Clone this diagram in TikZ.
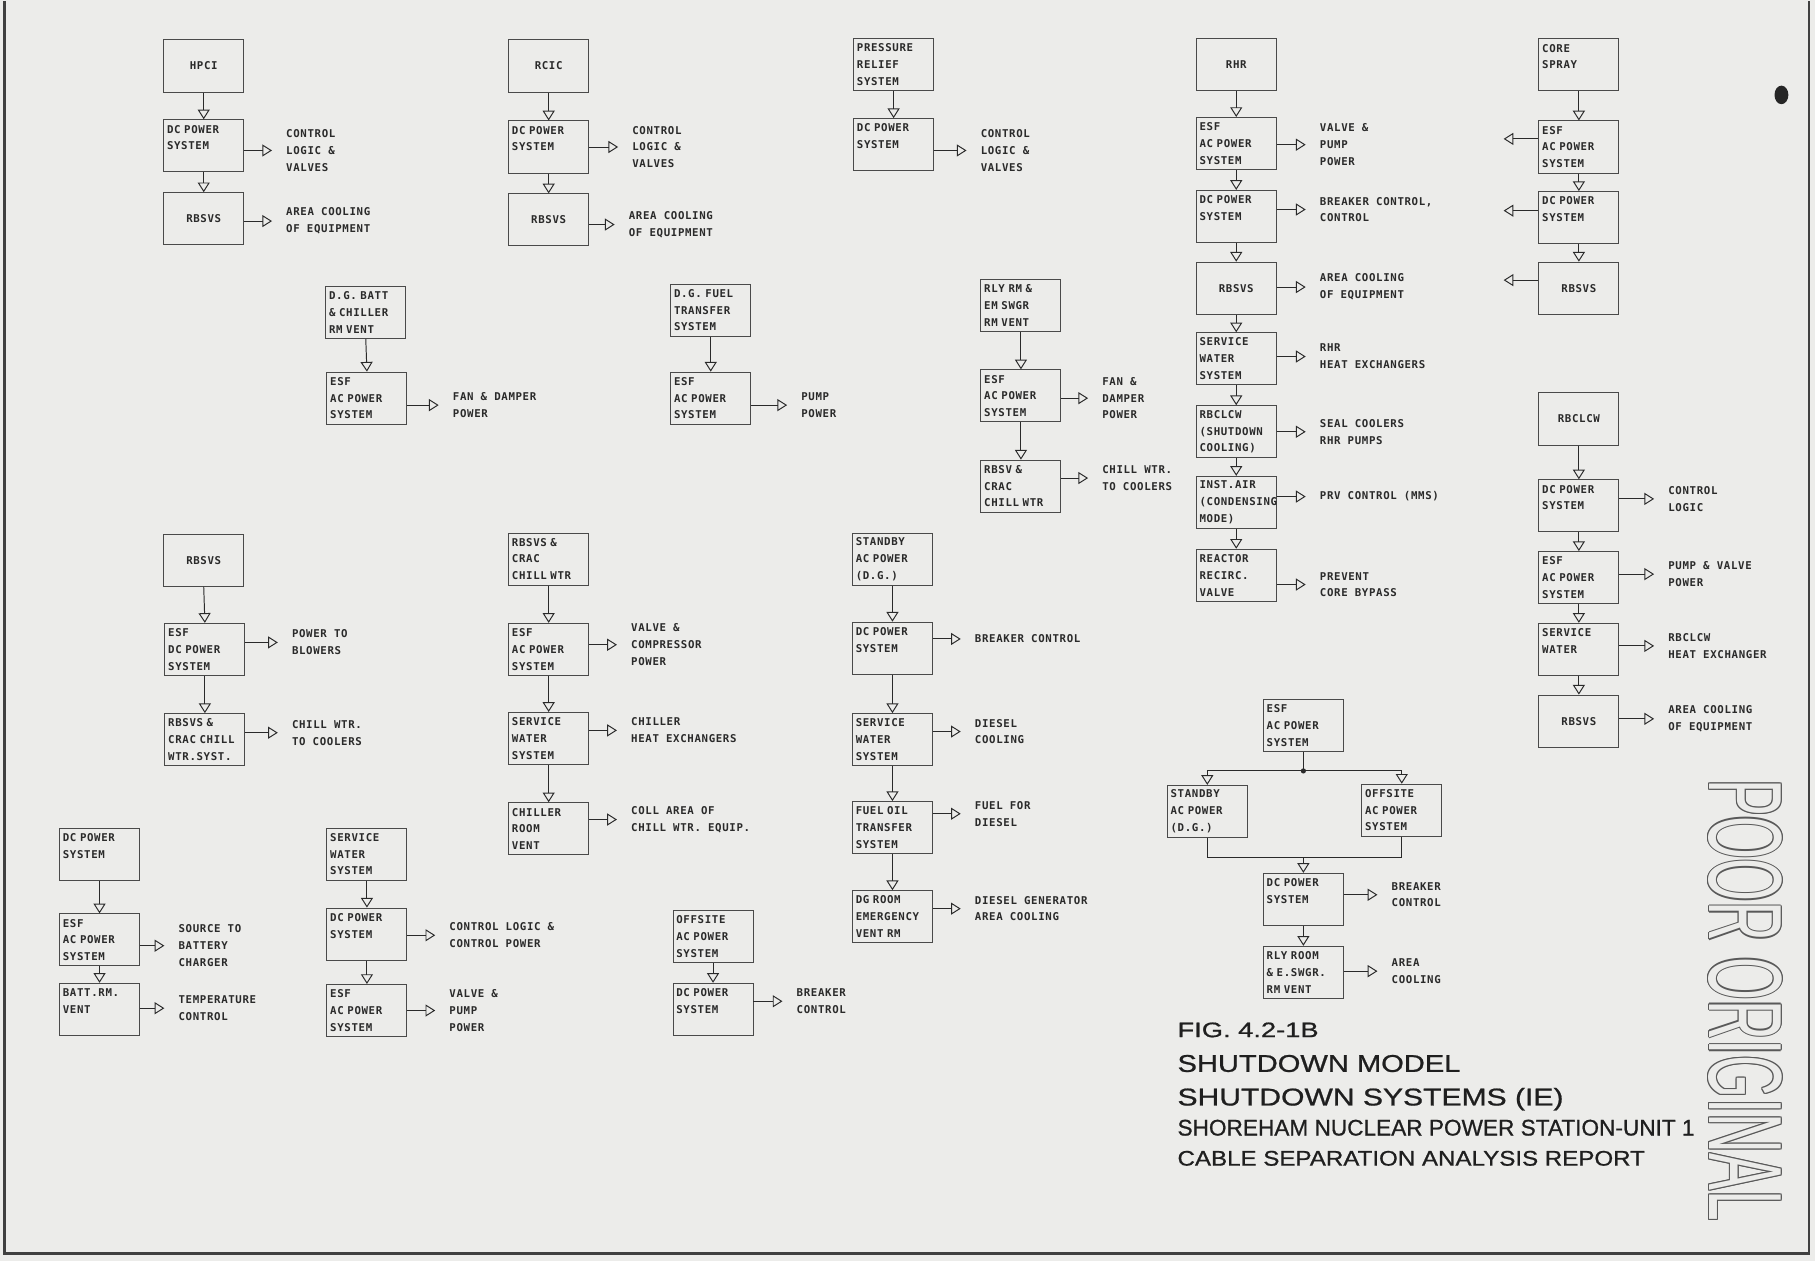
\documentclass[tikz,border=0pt]{standalone}
\usepackage{fontspec}
\usepackage{graphicx}
\setmainfont{Liberation Sans}
\newfontfamily\lettering[LetterSpace=6]{DejaVu Sans Mono}
\newfontfamily\titlefont[FakeBold=0.8]{Liberation Sans}
\newcommand\boxfont{\lettering\bfseries\fontsize{6.6}{10.3}\selectfont}
\usetikzlibrary{arrows.meta}
\definecolor{paper}{RGB}{236,236,234}
\definecolor{ink}{RGB}{42,42,42}

\begin{document}
\begin{tikzpicture}[
  x=0.025cm, y=-0.025cm,
  every node/.style = {font=\boxfont, text=ink},
  blk/.style        = {draw=ink!85, line width=0.6pt, inner xsep=2pt, inner ysep=1.5pt,
                        minimum height=1.125cm, text width=1.585cm},
  cblk/.style       = {blk, align=center},
  lblk/.style       = {blk, align=left},
  lbl/.style        = {anchor=west, align=left, inner sep=0pt},
  varr/.style       = {-{Triangle[open, length=2.1mm, width=2.6mm]}, draw=ink, line width=0.6pt},
  harr/.style       = {varr, shorten >=3mm},
  ln/.style         = {draw=ink, line width=0.6pt},
  title/.style      = {anchor=base west, inner sep=0pt, text=black!88},
  stamp/.style      = {rotate=-90, inner sep=0pt,
                        font=\fontsize{64}{64}\selectfont},
]
\useasboundingbox (0,0) rectangle (1568,1089);
\fill[paper] (0,0) rectangle (1568,1089);

% ── HPCI ─────────────────────────────────────────────────────────────────────
\node[cblk] (hpci)   at (176,57)  {HPCI};
\node[lblk] (hpciDC) at (176,126) {DC POWER\\SYSTEM\\\mbox{}};
\node[cblk] (hpciRB) at (176,189) {RBSVS};
\node[lbl]  (hpciL1) at (247,130) {CONTROL\\LOGIC \&\\VALVES};
\node[lbl]  (hpciL2) at (247,191) {AREA COOLING\\OF EQUIPMENT};
\draw[varr] (hpci.south)   -- (hpciDC.north);
\draw[varr] (hpciDC.south) -- (hpciRB.north);
\draw[harr] (hpciDC.east |- hpciL1.west) -- (hpciL1.west);
\draw[harr] (hpciRB.east |- hpciL2.west) -- (hpciL2.west);

% ── RCIC ─────────────────────────────────────────────────────────────────────
\node[cblk] (rcic)   at (474,57)  {RCIC};
\node[lblk] (rcicDC) at (474,127) {DC POWER\\SYSTEM\\\mbox{}};
\node[cblk] (rcicRB) at (474,190) {RBSVS};
\node[lbl]  (rcicL1) at (546,127) {CONTROL\\LOGIC \&\\VALVES};
\node[lbl]  (rcicL2) at (543,194) {AREA COOLING\\OF EQUIPMENT};
\draw[varr] (rcic.south)   -- (rcicDC.north);
\draw[varr] (rcicDC.south) -- (rcicRB.north);
\draw[harr] (rcicDC.east |- rcicL1.west) -- (rcicL1.west);
\draw[harr] (rcicRB.east |- rcicL2.west) -- (rcicL2.west);

% ── PRESSURE RELIEF ──────────────────────────────────────────────────────────
\node[lblk] (prs)   at (772,56)  {PRESSURE\\RELIEF\\SYSTEM};
\node[lblk] (prsDC) at (772,125) {DC POWER\\SYSTEM\\\mbox{}};
\node[lbl]  (prsL1) at (847,130) {CONTROL\\LOGIC \&\\VALVES};
\draw[varr] (prs.south) -- (prsDC.north);
\draw[harr] (prsDC.east |- prsL1.west) -- (prsL1.west);

% ── RHR ──────────────────────────────────────────────────────────────────────
\node[cblk] (rhr)    at (1068,56)  {RHR};
\node[lblk] (rhrESF) at (1068,124) {ESF\\AC POWER\\SYSTEM};
\node[lblk] (rhrDC)  at (1068,187) {DC POWER\\SYSTEM\\\mbox{}};
\node[cblk] (rhrRB)  at (1068,249) {RBSVS};
\node[lblk] (rhrSW)  at (1068,310) {SERVICE\\WATER\\SYSTEM};
\node[lblk] (rhrCC)  at (1068,373) {RBCLCW\\(SHUTDOWN\\COOLING)};
\node[lblk] (rhrIA)  at (1068,434) {INST.AIR\\(CONDENSING\\MODE)};
\node[lblk] (rhrRR)  at (1068,497) {REACTOR\\RECIRC.\\VALVE};
\node[lbl]  (rhrL1)  at (1140,125) {VALVE \&\\PUMP\\POWER};
\node[lbl]  (rhrL2)  at (1140,181) {BREAKER CONTROL,\\CONTROL};
\node[lbl]  (rhrL3)  at (1140,248) {AREA COOLING\\OF EQUIPMENT};
\node[lbl]  (rhrL4)  at (1140,308) {RHR\\HEAT EXCHANGERS};
\node[lbl]  (rhrL5)  at (1140,373) {SEAL COOLERS\\RHR PUMPS};
\node[lbl]  (rhrL6)  at (1140,429) {PRV CONTROL (MMS)};
\node[lbl]  (rhrL7)  at (1140,505) {PREVENT\\CORE BYPASS};
\draw[varr] (rhr.south)    -- (rhrESF.north);
\draw[varr] (rhrESF.south) -- (rhrDC.north);
\draw[varr] (rhrDC.south)  -- (rhrRB.north);
\draw[varr] (rhrRB.south)  -- (rhrSW.north);
\draw[varr] (rhrSW.south)  -- (rhrCC.north);
\draw[varr] (rhrCC.south)  -- (rhrIA.north);
\draw[varr] (rhrIA.south)  -- (rhrRR.north);
\draw[harr] (rhrESF.east |- rhrL1.west) -- (rhrL1.west);
\draw[harr] (rhrDC.east  |- rhrL2.west) -- (rhrL2.west);
\draw[harr] (rhrRB.east  |- rhrL3.west) -- (rhrL3.west);
\draw[harr] (rhrSW.east  |- rhrL4.west) -- (rhrL4.west);
\draw[harr] (rhrCC.east  |- rhrL5.west) -- (rhrL5.west);
\draw[harr] (rhrIA.east  |- rhrL6.west) -- (rhrL6.west);
\draw[harr] (rhrRR.east  |- rhrL7.west) -- (rhrL7.west);

% ── CORE SPRAY ───────────────────────────────────────────────────────────────
\node[lblk] (cs)    at (1364,56)  {CORE\\SPRAY\\\mbox{}};
\node[lblk] (csESF) at (1364,127) {ESF\\AC POWER\\SYSTEM};
\node[lblk] (csDC)  at (1364,188) {DC POWER\\SYSTEM\\\mbox{}};
\node[cblk] (csRB)  at (1364,249) {RBSVS};
\coordinate (csA1) at (1299,120);
\coordinate (csA2) at (1299,182);
\coordinate (csA3) at (1299,242);
\draw[varr] (cs.south)    -- (csESF.north);
\draw[varr] (csESF.south) -- (csDC.north);
\draw[varr] (csDC.south)  -- (csRB.north);
\draw[varr] (csESF.west |- csA1) -- (csA1);
\draw[varr] (csDC.west  |- csA2) -- (csA2);
\draw[varr] (csRB.west  |- csA3) -- (csA3);

% ── D.G. BATT / D.G. FUEL / RLY RM ───────────────────────────────────────────
\node[lblk] (dgb)    at (316,270) {D.G. BATT\\\& CHILLER\\RM VENT};
\node[lblk] (dgbESF) at (317,344) {ESF\\AC POWER\\SYSTEM};
\node[lbl]  (dgbL1)  at (391,350) {FAN \& DAMPER\\POWER};
\draw[varr] (dgb.south) -- (dgbESF.north);
\draw[harr] (dgbESF.east |- dgbL1.west) -- (dgbL1.west);

\node[lblk] (dgf)    at (614,268) {D.G. FUEL\\TRANSFER\\SYSTEM};
\node[lblk] (dgfESF) at (614,344) {ESF\\AC POWER\\SYSTEM};
\node[lbl]  (dgfL1)  at (692,350) {PUMP\\POWER};
\draw[varr] (dgf.south) -- (dgfESF.north);
\draw[harr] (dgfESF.east |- dgfL1.west) -- (dgfL1.west);

\node[lblk] (rly)    at (882,264) {RLY RM \&\\EM SWGR\\RM VENT};
\node[lblk] (rlyESF) at (882,342) {ESF\\AC POWER\\SYSTEM};
\node[lblk] (rlyCH)  at (882,420) {RBSV \&\\CRAC\\CHILL WTR};
\node[lbl]  (rlyL1)  at (952,344) {FAN \&\\DAMPER\\POWER};
\node[lbl]  (rlyL2)  at (952,413) {CHILL WTR.\\TO COOLERS};
\draw[varr] (rly.south)    -- (rlyESF.north);
\draw[varr] (rlyESF.south) -- (rlyCH.north);
\draw[harr] (rlyESF.east |- rlyL1.west) -- (rlyL1.west);
\draw[harr] (rlyCH.east  |- rlyL2.west) -- (rlyL2.west);

% ── RBCLCW ───────────────────────────────────────────────────────────────────
\node[cblk] (rbc)    at (1364,362) {RBCLCW};
\node[lblk] (rbcDC)  at (1364,437) {DC POWER\\SYSTEM\\\mbox{}};
\node[lblk] (rbcESF) at (1364,499) {ESF\\AC POWER\\SYSTEM};
\node[lblk] (rbcSW)  at (1364,561) {SERVICE\\WATER\\\mbox{}};
\node[cblk] (rbcRB)  at (1364,623) {RBSVS};
\node[lbl]  (rbcL1)  at (1441,431) {CONTROL\\LOGIC};
\node[lbl]  (rbcL2)  at (1441,496) {PUMP \& VALVE\\POWER};
\node[lbl]  (rbcL3)  at (1441,558) {RBCLCW\\HEAT EXCHANGER};
\node[lbl]  (rbcL4)  at (1441,621) {AREA COOLING\\OF EQUIPMENT};
\draw[varr] (rbc.south)    -- (rbcDC.north);
\draw[varr] (rbcDC.south)  -- (rbcESF.north);
\draw[varr] (rbcESF.south) -- (rbcSW.north);
\draw[varr] (rbcSW.south)  -- (rbcRB.north);
\draw[harr] (rbcDC.east  |- rbcL1.west) -- (rbcL1.west);
\draw[harr] (rbcESF.east |- rbcL2.west) -- (rbcL2.west);
\draw[harr] (rbcSW.east  |- rbcL3.west) -- (rbcL3.west);
\draw[harr] (rbcRB.east  |- rbcL4.west) -- (rbcL4.west);

% ── RBSVS (row 3) ────────────────────────────────────────────────────────────
\node[cblk] (rb3)    at (176,484) {RBSVS};
\node[lblk] (rb3ESF) at (177,561) {ESF\\DC POWER\\SYSTEM};
\node[lblk] (rb3CH)  at (177,639) {RBSVS \&\\CRAC CHILL\\WTR.SYST.};
\node[lbl]  (rb3L1)  at (252,555) {POWER TO\\BLOWERS};
\node[lbl]  (rb3L2)  at (252,633) {CHILL WTR.\\TO COOLERS};
\draw[varr] (rb3.south)    -- (rb3ESF.north);
\draw[varr] (rb3ESF.south) -- (rb3CH.north);
\draw[harr] (rb3ESF.east |- rb3L1.west) -- (rb3L1.west);
\draw[harr] (rb3CH.east  |- rb3L2.west) -- (rb3L2.west);

% ── RBSVS & CRAC CHILL WTR ───────────────────────────────────────────────────
\node[lblk] (ch)    at (474,483) {RBSVS \&\\CRAC\\CHILL WTR};
\node[lblk] (chESF) at (474,561) {ESF\\AC POWER\\SYSTEM};
\node[lblk] (chSW)  at (474,638) {SERVICE\\WATER\\SYSTEM};
\node[lblk] (chCR)  at (474,716) {CHILLER\\ROOM\\VENT};
\node[lbl]  (chL1)  at (545,557) {VALVE \&\\COMPRESSOR\\POWER};
\node[lbl]  (chL2)  at (545,631) {CHILLER\\HEAT EXCHANGERS};
\node[lbl]  (chL3)  at (545,708) {COLL AREA OF\\CHILL WTR. EQUIP.};
\draw[varr] (ch.south)    -- (chESF.north);
\draw[varr] (chESF.south) -- (chSW.north);
\draw[varr] (chSW.south)  -- (chCR.north);
\draw[harr] (chESF.east |- chL1.west) -- (chL1.west);
\draw[harr] (chSW.east  |- chL2.west) -- (chL2.west);
\draw[harr] (chCR.east  |- chL3.west) -- (chL3.west);

% ── STANDBY AC POWER ─────────────────────────────────────────────────────────
\node[lblk] (sb)   at (771,483) {STANDBY\\AC POWER\\(D.G.)};
\node[lblk] (sbDC) at (771,560) {DC POWER\\SYSTEM\\\mbox{}};
\node[lblk] (sbSW) at (771,639) {SERVICE\\WATER\\SYSTEM};
\node[lblk] (sbFO) at (771,715) {FUEL OIL\\TRANSFER\\SYSTEM};
\node[lblk] (sbDG) at (771,792) {DG ROOM\\EMERGENCY\\VENT RM};
\node[lbl]  (sbL1) at (842,552) {BREAKER CONTROL};
\node[lbl]  (sbL2) at (842,632) {DIESEL\\COOLING};
\node[lbl]  (sbL3) at (842,703) {FUEL FOR\\DIESEL};
\node[lbl]  (sbL4) at (842,785) {DIESEL GENERATOR\\AREA COOLING};
\draw[varr] (sb.south)   -- (sbDC.north);
\draw[varr] (sbDC.south) -- (sbSW.north);
\draw[varr] (sbSW.south) -- (sbFO.north);
\draw[varr] (sbFO.south) -- (sbDG.north);
\draw[harr] (sbDC.east |- sbL1.west) -- (sbL1.west);
\draw[harr] (sbSW.east |- sbL2.west) -- (sbL2.west);
\draw[harr] (sbFO.east |- sbL3.west) -- (sbL3.west);
\draw[harr] (sbDG.east |- sbL4.west) -- (sbL4.west);

% ── DC POWER (bottom left) ───────────────────────────────────────────────────
\node[lblk] (bdc)  at (86,738) {DC POWER\\SYSTEM\\\mbox{}};
\node[lblk] (bESF) at (86,812) {ESF\\AC POWER\\SYSTEM};
\node[lblk] (bBR)  at (86,872) {BATT.RM.\\VENT\\\mbox{}};
\node[lbl]  (bL1)  at (154,817) {SOURCE TO\\BATTERY\\CHARGER};
\node[lbl]  (bL2)  at (154,871) {TEMPERATURE\\CONTROL};
\draw[varr] (bdc.south)  -- (bESF.north);
\draw[varr] (bESF.south) -- (bBR.north);
\draw[harr] (bESF.east |- bL1.west) -- (bL1.west);
\draw[harr] (bBR.east  |- bL2.west) -- (bL2.west);

% ── SERVICE WATER (bottom) ───────────────────────────────────────────────────
\node[lblk] (bsw)    at (317,738) {SERVICE\\WATER\\SYSTEM};
\node[lblk] (bswDC)  at (317,807) {DC POWER\\SYSTEM\\\mbox{}};
\node[lblk] (bswESF) at (317,873) {ESF\\AC POWER\\SYSTEM};
\node[lbl]  (bswL1)  at (388,808) {CONTROL LOGIC \&\\CONTROL POWER};
\node[lbl]  (bswL2)  at (388,873) {VALVE \&\\PUMP\\POWER};
\draw[varr] (bsw.south)   -- (bswDC.north);
\draw[varr] (bswDC.south) -- (bswESF.north);
\draw[harr] (bswDC.east  |- bswL1.west) -- (bswL1.west);
\draw[harr] (bswESF.east |- bswL2.west) -- (bswL2.west);

% ── OFFSITE AC POWER ─────────────────────────────────────────────────────────
\node[lblk] (off)   at (616,809) {OFFSITE\\AC POWER\\SYSTEM};
\node[lblk] (offDC) at (616,872) {DC POWER\\SYSTEM\\\mbox{}};
\node[lbl]  (offL1) at (688,865) {BREAKER\\CONTROL};
\draw[varr] (off.south) -- (offDC.north);
\draw[harr] (offDC.east |- offL1.west) -- (offL1.west);

% ── ESF AC POWER tree ────────────────────────────────────────────────────────
\node[lblk] (tESF) at (1126,627) {ESF\\AC POWER\\SYSTEM};
\node[lblk] (tSB)  at (1043,701) {STANDBY\\AC POWER\\(D.G.)};
\node[lblk] (tOF)  at (1211,700) {OFFSITE\\AC POWER\\SYSTEM};
\node[lblk] (tDC)  at (1126,777) {DC POWER\\SYSTEM\\\mbox{}};
\node[lblk] (tRR)  at (1126,840) {RLY ROOM\\\& E.SWGR.\\RM VENT};
\node[lbl]  (tL1)  at (1202,773) {BREAKER\\CONTROL};
\node[lbl]  (tL2)  at (1202,839) {AREA\\COOLING};
\coordinate (jt) at (1126,666);
\coordinate (jb) at (1126,741);
\draw[ln]   (tESF.south) -- (jt);
\draw[varr] (jt) -| (tSB.north);
\draw[varr] (jt) -| (tOF.north);
\fill[ink]  (jt) circle (1.6pt);
\draw[ln]   (tSB.south) |- (jb) -| (tOF.south);
\draw[varr] (jb) -- (tDC.north);
\draw[varr] (tDC.south) -- (tRR.north);
\draw[harr] (tDC.east |- tL1.west) -- (tL1.west);
\draw[harr] (tRR.east |- tL2.west) -- (tL2.west);

% ── Title block ──────────────────────────────────────────────────────────────
\node[title, font=\titlefont\fontsize{12.9}{14}\selectfont] (fig) at (1017,896)
  {\scalebox{1.3}[1]{FIG. 4.2-1B}};
\node[title, font=\titlefont\fontsize{14.9}{16}\selectfont] (t1) at (1017,926)
  {\scalebox{1.2}[1]{SHUTDOWN MODEL}};
\node[title, font=\titlefont\fontsize{14.9}{16}\selectfont] (t2) at (1017,955)
  {\scalebox{1.24}[1]{SHUTDOWN SYSTEMS (IE)}};
\node[title, font=\titlefont\fontsize{13.9}{15}\selectfont] (t3) at (1017,981)
  {SHOREHAM NUCLEAR POWER STATION-UNIT 1};
\node[title, font=\titlefont\fontsize{13}{14}\selectfont] (t4) at (1017,1007)
  {\scalebox{1.14}[1]{CABLE SEPARATION ANALYSIS REPORT}};

% ── POOR ORIGINAL stamp ──────────────────────────────────────────────────────
\coordinate (stp) at (1508,864);
\foreach \a in {0,45,...,315}
  \node[stamp, text=black!65] at ([shift={(\a:0.7pt)}]stp) {\scalebox{0.53}[1]{POOR ORIGINAL}};
\node[stamp, text=paper] (poor) at (stp) {\scalebox{0.53}[1]{POOR ORIGINAL}};

% ── Sheet frame and blot ─────────────────────────────────────────────────────
\draw[black!75, line width=1.4pt] (4,1) -- (4,1083) -- (1563,1083) -- (1563,1);
\fill[black!85] (1539,82) ellipse (0.15cm and 0.2cm);

\end{tikzpicture}
\end{document}
